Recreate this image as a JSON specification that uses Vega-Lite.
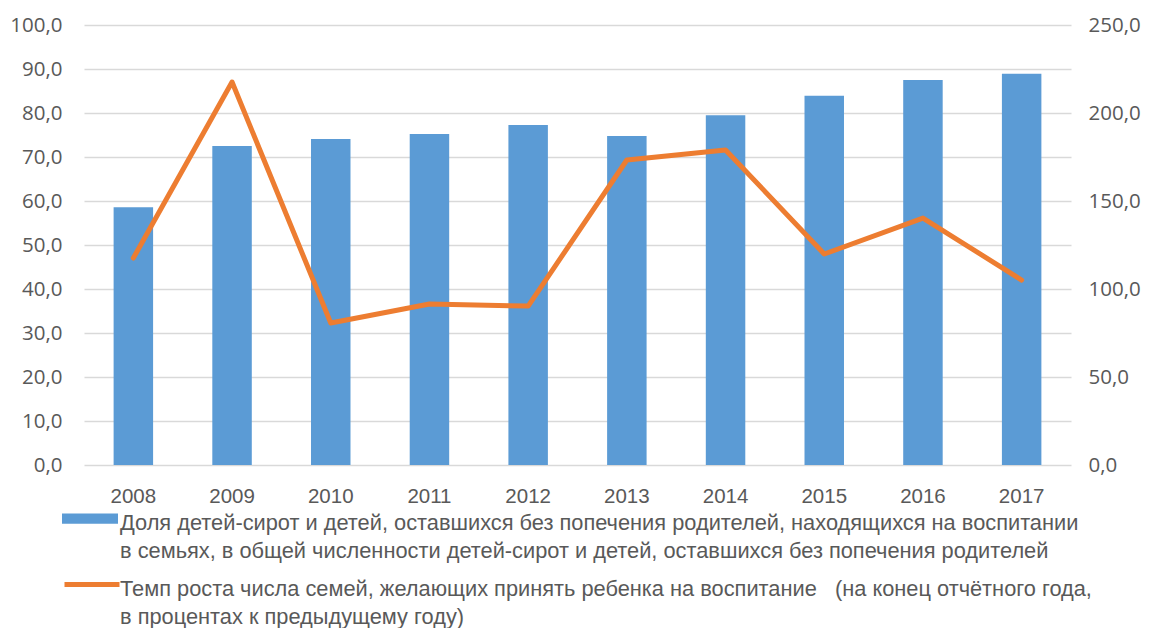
{
  "$schema": "https://vega.github.io/schema/vega-lite/v6.json",
  "width": 987,
  "height": 440,
  "autosize": {"type": "none"},
  "padding": {"left": 84, "top": 25, "right": 79, "bottom": 163},
  "background": "white",
  "config": {"view": {"stroke": null}},
  "data": {"values": [
    {"year": "2008", "share": 58.6, "growth": 117.6},
    {"year": "2009", "share": 72.5, "growth": 217.6},
    {"year": "2010", "share": 74.1, "growth": 80.7},
    {"year": "2011", "share": 75.2, "growth": 91.5},
    {"year": "2012", "share": 77.3, "growth": 90.3},
    {"year": "2013", "share": 74.8, "growth": 173.3},
    {"year": "2014", "share": 79.5, "growth": 179.0},
    {"year": "2015", "share": 83.9, "growth": 119.9},
    {"year": "2016", "share": 87.5, "growth": 140.3},
    {"year": "2017", "share": 88.9, "growth": 105.1}
  ]},
  "encoding": {
    "x": {
      "field": "year", "type": "nominal",
      "scale": {"paddingInner": 0.6, "paddingOuter": 0.3},
      "axis": {
        "title": null, "labelAngle": 0, "domain": false, "ticks": false,
        "labelPadding": 21, "labelFont": "Liberation Sans", "labelFontSize": 20.5,
        "labelColor": "#595959", "grid": false
      }
    }
  },
  "layer": [
    {
      "mark": {"type": "bar"},
      "encoding": {
        "y": {
          "field": "share", "type": "quantitative",
          "scale": {"domain": [0, 100], "nice": false},
          "axis": {
            "title": null, "values": [0,10,20,30,40,50,60,70,80,90,100],
            "domain": false, "ticks": false, "labelPadding": 22,
            "labelExpr": "replace(format(datum.value, '.1f'), '.', ',')",
            "labelFont": "Open Sans", "labelFontSize": 20.5, "labelColor": "#595959",
            "grid": true, "gridColor": "#D9D9D9", "gridWidth": 1.5
          }
        },
        "fill": {
          "datum": "Доля детей-сирот и детей, оставшихся без попечения родителей, находящихся на воспитании",
          "type": "nominal",
          "scale": {"range": ["#5B9BD5"]},
          "legend": {
            "title": null, "orient": "none", "legendX": -22, "legendY": 460,
            "symbolType": "M-1,0.02L1,0.02L1,0.38L-1,0.38Z", "symbolSize": 3136,
            "symbolStrokeWidth": 0,
            "labelExpr": "['\u00a0' + datum.label, 'в семьях, в общей численности детей-сирот и детей, оставшихся без попечения родителей']",
            "labelFont": "Liberation Sans", "labelFontSize": 21.8, "labelColor": "#595959",
            "labelLimit": 2000, "labelBaseline": "top", "labelOffset": 2,
            "encode": {"labels": {"update": {"lineHeight": {"value": 28}}}},
            "padding": 0
          }
        }
      }
    },
    {
      "mark": {"type": "line", "strokeWidth": 5, "strokeCap": "round", "strokeJoin": "round"},
      "encoding": {
        "y": {
          "field": "growth", "type": "quantitative",
          "scale": {"domain": [0, 250], "nice": false},
          "axis": {
            "title": null, "orient": "right", "values": [0,50,100,150,200,250],
            "domain": false, "ticks": false, "labelPadding": 17, "grid": false,
            "labelExpr": "replace(format(datum.value, '.1f'), '.', ',')",
            "labelFont": "Open Sans", "labelFontSize": 20.5, "labelColor": "#595959"
          }
        },
        "stroke": {
          "datum": "Темп роста числа семей, желающих принять ребенка на воспитание\u00a0\u00a0\u00a0(на конец отчётного года,",
          "type": "nominal",
          "scale": {"range": ["#ED7D31"]},
          "legend": {
            "title": null, "orient": "none", "legendX": -22, "legendY": 524,
            "symbolType": "M-1,0.2L1,0.2", "symbolSize": 3025, "symbolStrokeWidth": 5,
            "labelExpr": "[datum.label, 'в процентах к предыдущему году)']",
            "labelFont": "Liberation Sans", "labelFontSize": 21.8, "labelColor": "#595959",
            "labelLimit": 2000, "labelBaseline": "top", "labelOffset": -2,
            "encode": {"labels": {"update": {"lineHeight": {"value": 28}}}},
            "padding": 0
          }
        }
      }
    }
  ],
  "resolve": {"scale": {"y": "independent"}}
}
